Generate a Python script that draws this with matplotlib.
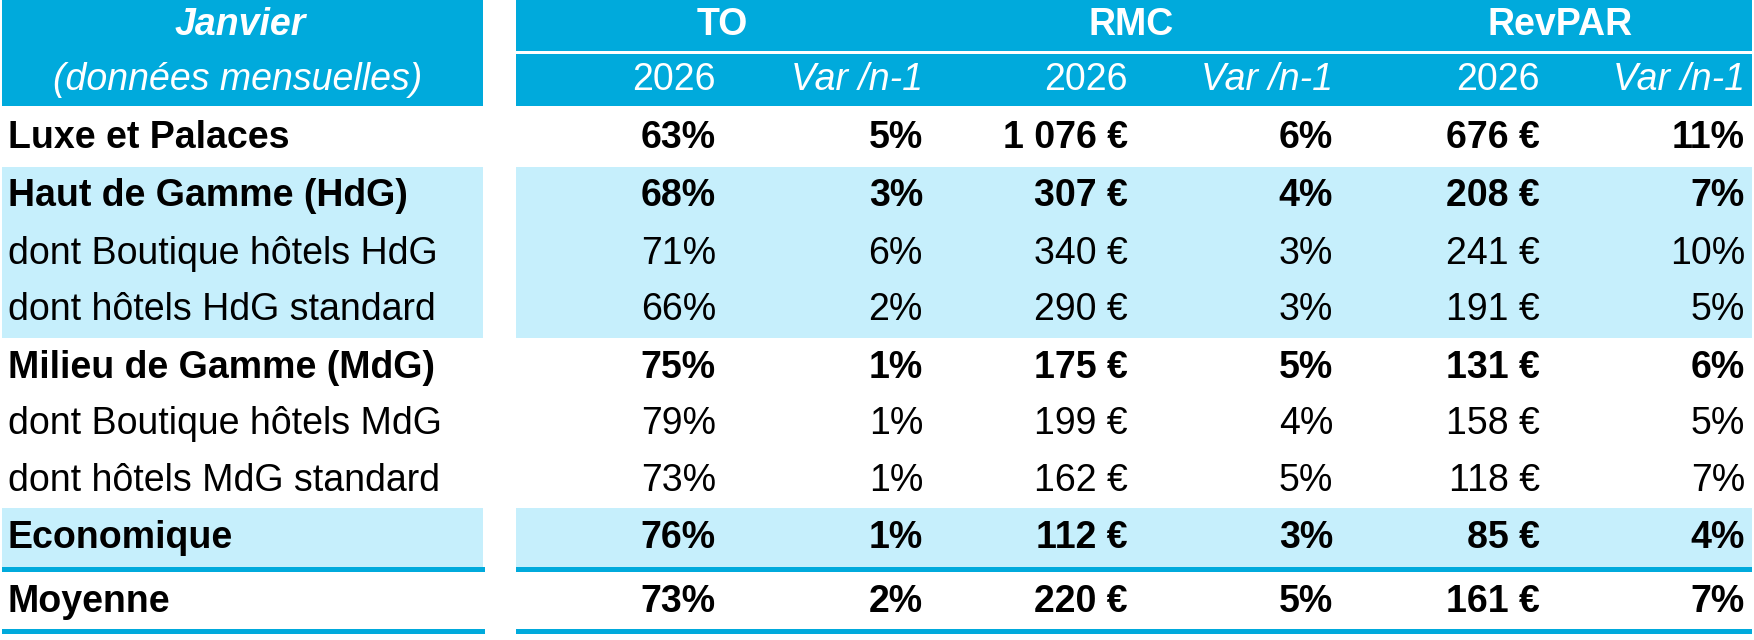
import matplotlib
matplotlib.use("Agg")
import matplotlib.pyplot as plt
from matplotlib import font_manager
from matplotlib.patches import Rectangle

# table content
labels = ["Luxe et Palaces", "Haut de Gamme (HdG)", "dont Boutique hôtels HdG",
          "dont hôtels HdG standard", "Milieu de Gamme (MdG)", "dont Boutique hôtels MdG",
          "dont hôtels MdG standard", "Economique", "Moyenne"]
is_bold = [True, True, False, False, True, False, False, True, True]
shaded = [False, True, True, True, False, False, False, True, False]
to_2026 = [63, 68, 71, 66, 75, 79, 73, 76, 73]
to_var = [5, 3, 6, 2, 1, 1, 1, 1, 2]
rmc_2026 = [1076, 307, 340, 290, 175, 199, 162, 112, 220]
rmc_var = [6, 4, 3, 3, 5, 4, 5, 3, 5]
revpar_2026 = [676, 208, 241, 191, 131, 158, 118, 85, 161]
revpar_var = [11, 7, 10, 5, 6, 5, 7, 4, 7]
groups = ["TO", "RMC", "RevPAR"]
sub_headers = ["2026", "Var /n-1"] * 3

HEAD = "#00AADC"
BAND = "#C6EFFC"

def pick_font():
    for name in ["Liberation Sans Narrow", "Arial Narrow", "Liberation Sans"]:
        try:
            font_manager.findfont(name, fallback_to_default=False)
            return name
        except Exception:
            pass
    return "DejaVu Sans"

FONT = pick_font()
plt.rcParams["font.family"] = [FONT, "DejaVu Sans"]
FS = 27

def pct(v):
    return f"{v}%"

def eur(v):
    return f"{v:,}".replace(",", " ") + " €"

fig = plt.figure(figsize=(17.54, 6.4), dpi=100)
ax = fig.add_axes([0, 0, 1, 1])
ax.set_xlim(0, 1754)
ax.set_ylim(640, 0)
ax.axis("off")

left_x0, left_x1 = 2, 483
right_x0, right_x1 = 516, 1752

# header
for x0, x1 in [(left_x0, left_x1), (right_x0, right_x1)]:
    ax.add_patch(Rectangle((x0, 0), x1 - x0, 106, color=HEAD, lw=0))
ax.add_patch(Rectangle((right_x0, 51), right_x1 - right_x0, 3, color="white", lw=0))

ax.text(240, 35, "Janvier", color="white", fontsize=FS, fontweight="bold",
        fontstyle="italic", ha="center", va="baseline")
ax.text(238, 90, "(données mensuelles)", color="white", fontsize=FS,
        fontstyle="italic", ha="center", va="baseline")

group_centers = [722, 1131, 1560]
for g, cx in zip(groups, group_centers):
    ax.text(cx, 35, g, color="white", fontsize=FS, fontweight="bold",
            ha="center", va="baseline")

col_right = [716, 923, 1128, 1333, 1540, 1745]
for i, (h, xr) in enumerate(zip(sub_headers, col_right)):
    ax.text(xr, 90, h, color="white", fontsize=FS,
            fontstyle="italic" if i % 2 else "normal", ha="right", va="baseline")

# rows
row_top = [106, 167, 224, 281, 338, 395, 452, 508, 572]
row_bot = [167, 224, 281, 338, 395, 452, 508, 567, 629]

columns = [
    [pct(v) for v in to_2026], [pct(v) for v in to_var],
    [eur(v) for v in rmc_2026], [pct(v) for v in rmc_var],
    [eur(v) for v in revpar_2026], [pct(v) for v in revpar_var],
]

for r in range(len(labels)):
    y0, y1 = row_top[r], row_bot[r]
    if shaded[r]:
        for x0, x1 in [(left_x0, left_x1), (right_x0, right_x1)]:
            ax.add_patch(Rectangle((x0, y0), x1 - x0, y1 - y0, color=BAND, lw=0))
    yb = (y0 + y1) / 2 + 11
    w = "bold" if is_bold[r] else "normal"
    ax.text(8, yb, labels[r], fontsize=FS, fontweight=w, color="black",
            ha="left", va="baseline")
    for c, xr in enumerate(col_right):
        ax.text(xr, yb, columns[c][r], fontsize=FS, fontweight=w, color="black",
                ha="right", va="baseline")

# blue rules around the average row
for y in [567, 629]:
    ax.add_patch(Rectangle((left_x0, y), 485 - left_x0, 5, color=HEAD, lw=0))
    ax.add_patch(Rectangle((right_x0, y), right_x1 - right_x0, 5, color=HEAD, lw=0))

fig.savefig("out.png", dpi=100)
